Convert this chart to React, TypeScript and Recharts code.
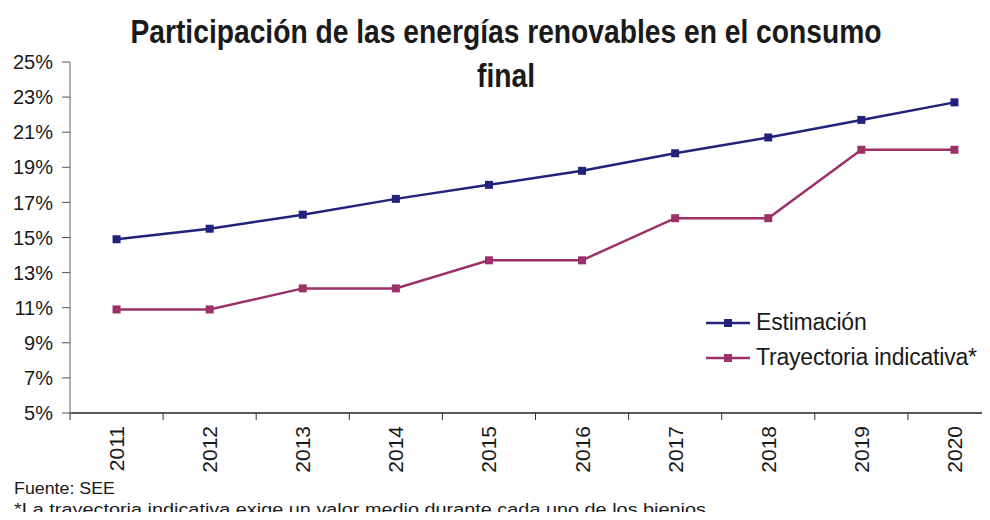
import { Legend, Line, LineChart, XAxis, YAxis } from "recharts";

const years = ["2011", "2012", "2013", "2014", "2015", "2016", "2017", "2018", "2019", "2020"];
const estimacion = [14.9, 15.5, 16.3, 17.2, 18.0, 18.8, 19.8, 20.7, 21.7, 22.7];
const trayectoria = [10.9, 10.9, 12.1, 12.1, 13.7, 13.7, 16.1, 16.1, 20.0, 20.0];
const yTicks = [5, 7, 9, 11, 13, 15, 17, 19, 21, 23, 25];

const NAVY = "#22227a";
const PLUM = "#9c3068";
const FONT = "'Liberation Sans', Arial, sans-serif";

const data = years.map((year, i) => ({
  year,
  estimacion: estimacion[i],
  trayectoria: trayectoria[i],
}));

const squareDot = (color: string) => (props: any) => {
  const { cx, cy, index } = props;
  if (cx == null || cy == null) return <g key={index} />;
  return <rect key={index} x={cx - 4} y={cy - 4} width={8} height={8} fill={color} />;
};

function YearTick(props: any) {
  const { x, y, payload, index, visibleTicksCount } = props;
  const off = payload.offset || 46.5;
  const last = index === visibleTicksCount - 1;
  return (
    <g>
      <line x1={x - off} x2={x - off} y1={y} y2={y + 7} stroke="#333" strokeWidth={1} />
      {last && <line x1={x + off} x2={x + off} y1={y} y2={y + 7} stroke="#333" strokeWidth={1} />}
      <text
        x={x}
        y={y + 13}
        transform={`rotate(-90 ${x} ${y + 13})`}
        textAnchor="end"
        dominantBaseline="central"
        fontSize={21}
        fontFamily={FONT}
        fill="#1a1a1a"
      >
        {payload.value}
      </text>
    </g>
  );
}

function LegendBox({ payload }: any) {
  return (
    <div style={{ fontFamily: FONT }}>
      {(payload || []).map((p: any) => (
        <div key={p.value} style={{ display: "flex", alignItems: "center", height: 35 }}>
          <svg width={48} height={12} style={{ marginRight: 2 }}>
            <line x1={0} x2={44} y1={6} y2={6} stroke={p.color} strokeWidth={2.5} />
            <rect x={18} y={2} width={8} height={8} fill={p.color} />
          </svg>
          <span style={{ fontSize: 23, color: "#1a1a1a", letterSpacing: -0.2 }}>{p.value}</span>
        </div>
      ))}
    </div>
  );
}

export default function App() {
  return (
    <div style={{ position: "relative", width: 990, height: 520, margin: -8, overflow: "hidden", background: "#fff" }}>
      <LineChart width={1010} height={520} data={data} margin={{ top: 62, right: 9, bottom: 0, left: 0 }}>
        <XAxis
          dataKey="year"
          scale="band"
          height={107}
          tickLine={false}
          tickSize={0}
          tickMargin={0}
          axisLine={{ stroke: "#222", strokeWidth: 1.3 }}
          tick={<YearTick />}
          interval={0}
        />
        <YAxis
          width={70}
          domain={[5, 25]}
          ticks={yTicks}
          tickFormatter={(v) => `${v}%`}
          tickSize={8}
          tickMargin={9}
          axisLine={{ stroke: "#888", strokeWidth: 1.3 }}
          tickLine={{ stroke: "#555" }}
          tick={{ fontSize: 20, fill: "#1a1a1a", fontFamily: FONT }}
          interval={0}
        />
        <Legend
          layout="horizontal"
          verticalAlign="middle"
          align="center"
          content={<LegendBox />}
          wrapperStyle={{ left: 706, top: 305, width: 290, right: "auto", bottom: "auto" }}
        />
        <Line
          dataKey="estimacion"
          name="Estimación"
          stroke={NAVY}
          strokeWidth={2.5}
          dot={squareDot(NAVY)}
          activeDot={false}
          isAnimationActive={false}
        />
        <Line
          dataKey="trayectoria"
          name="Trayectoria indicativa*"
          stroke={PLUM}
          strokeWidth={2.5}
          dot={squareDot(PLUM)}
          activeDot={false}
          isAnimationActive={false}
        />
      </LineChart>
      <svg
        width={990}
        height={520}
        style={{ position: "absolute", left: 0, top: 0, pointerEvents: "none" }}
        fontFamily={FONT}
      >
        <g transform="translate(506 43) scale(0.83 1)">
          <text x={0} y={0} fontSize={34} fontWeight="bold" fill="#1a1a1a" textAnchor="middle">
            Participación de las energías renovables en el consumo
          </text>
        </g>
        <g transform="translate(506 87) scale(0.83 1)">
          <text x={0} y={0} fontSize={34} fontWeight="bold" fill="#1a1a1a" textAnchor="middle">
            final
          </text>
        </g>
        <text x={14} y={494} fontSize={16} fill="#1a1a1a" textLength={101} lengthAdjust="spacingAndGlyphs">
          Fuente: SEE
        </text>
        <text x={14} y={515} fontSize={16} fill="#1a1a1a" textLength={692} lengthAdjust="spacingAndGlyphs">
          *La trayectoria indicativa exige un valor medio durante cada uno de los bienios
        </text>
      </svg>
    </div>
  );
}
